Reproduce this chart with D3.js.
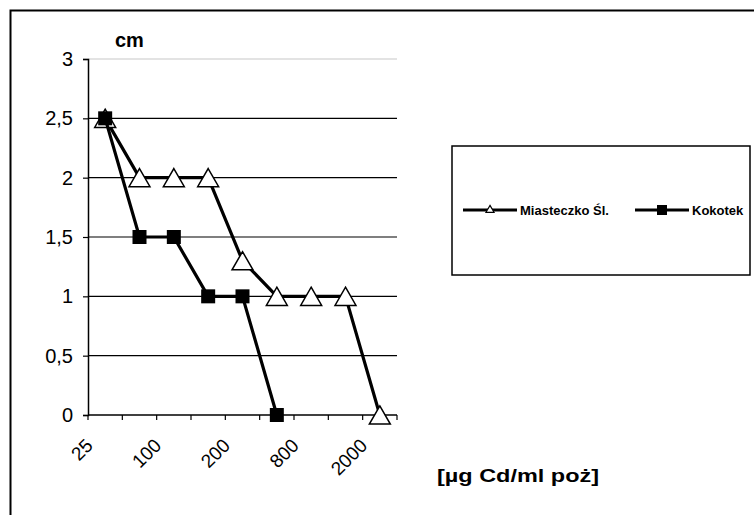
<!DOCTYPE html>
<html lang="pl">
<head>
<meta charset="UTF-8">
<title>Cd chart</title>
<style>
    body, html { margin: 0; padding: 0; background: #fff; }
    svg { display: block; font-family: "Liberation Sans", Arial, sans-serif; }
</style>
</head>
<body>
<div id="chart"></div>
<script src="https://cdn.jsdelivr.net/npm/d3@7"></script>
<script>
    // categories on the x axis (only every other one is labelled)
    const categories = ["c1", "c2", "c3", "c4", "c5", "c6", "c7", "c8", "c9"];
    const tickLabels = ["25", "", "100", "", "200", "", "800", "", "2000"];
    const yTicks = [0, 0.5, 1, 1.5, 2, 2.5, 3];

    const miasteczko = [2.5, 2, 2, 2, 1.3, 1, 1, 1, 0];
    const kokotek = [2.5, 1.5, 1.5, 1, 1, 0];

    const width = 754, height = 515;

    const svg = d3.select("#chart").append("svg")
        .attr("width", width)
        .attr("height", height);

    // outer frame (runs off the right/bottom edge like the original)
    svg.append("rect")
        .attr("x", 10.5).attr("y", 10.5)
        .attr("width", 760).attr("height", 520)
        .attr("fill", "none")
        .attr("stroke", "#000")
        .attr("stroke-width", 2);

    const x = d3.scaleBand().domain(categories).range([88, 397]).padding(0);
    const y = d3.scaleLinear().domain([0, 3]).range([415, 59]);
    const cx = c => x(c) + x.bandwidth() / 2;

    // gridlines
    svg.append("g")
        .selectAll("line")
        .data(yTicks.filter(t => t > 0))
        .join("line")
        .attr("x1", x.range()[0]).attr("x2", x.range()[1])
        .attr("y1", d => y(d)).attr("y2", d => y(d))
        .attr("stroke", d => d === 3 ? "#c8c8c8" : "#000")
        .attr("stroke-width", 1.2);

    // y axis
    const yAxis = svg.append("g")
        .attr("transform", `translate(${x.range()[0]},0)`)
        .call(d3.axisLeft(y).tickValues(yTicks).tickSize(5).tickPadding(10)
            .tickFormat(d => String(d).replace(".", ",")));
    yAxis.select(".domain").attr("stroke", "#000").attr("stroke-width", 1.5);
    yAxis.selectAll(".tick line").attr("stroke", "#000").attr("stroke-width", 1.2);
    yAxis.selectAll("text")
        .attr("font-size", 20)
        .attr("font-family", "'Liberation Sans', Arial, sans-serif")
        .attr("fill", "#000");

    // x axis line
    svg.append("line")
        .attr("x1", x.range()[0]).attr("x2", x.range()[1])
        .attr("y1", y(0)).attr("y2", y(0))
        .attr("stroke", "#000").attr("stroke-width", 1.5);

    // x tick marks at category boundaries
    const bounds = categories.map(c => x(c)).concat([x.range()[1]]);
    svg.append("g")
        .selectAll("line")
        .data(bounds)
        .join("line")
        .attr("x1", d => d).attr("x2", d => d)
        .attr("y1", y(0)).attr("y2", y(0) + 5)
        .attr("stroke", "#000").attr("stroke-width", 1.2);

    // x tick labels, rotated
    svg.append("g")
        .selectAll("text")
        .data(categories.map((c, i) => ({ c, label: tickLabels[i] })).filter(d => d.label))
        .join("text")
        .attr("transform", d => `translate(${cx(d.c) - 16},${y(0) + 27}) rotate(-45)`)
        .attr("text-anchor", "end")
        .attr("dy", "0.35em")
        .attr("font-size", 19)
        .text(d => d.label);

    // unit labels
    svg.append("text")
        .attr("x", 115).attr("y", 47)
        .attr("font-size", 20).attr("font-weight", "bold")
        .text("cm");

    svg.append("text")
        .attr("x", 437).attr("y", 482)
        .attr("font-size", 19).attr("font-weight", "bold")
        .attr("textLength", 162)
        .attr("lengthAdjust", "spacingAndGlyphs")
        .text("[µg Cd/ml poż]");

    const line = d3.line()
        .x((d, i) => cx(categories[i]))
        .y(d => y(d));

    const tri = d3.symbol().type(d3.symbolTriangle).size(190);

    // Miasteczko Śl.
    svg.append("path")
        .datum(miasteczko)
        .attr("d", line)
        .attr("fill", "none")
        .attr("stroke", "#000")
        .attr("stroke-width", 3.2)
        .attr("stroke-linejoin", "round");

    svg.append("g")
        .selectAll("path")
        .data(miasteczko)
        .join("path")
        .attr("d", tri)
        .attr("transform", (d, i) => `translate(${cx(categories[i])},${y(d) + 3})`)
        .attr("fill", "#fff")
        .attr("stroke", "#000")
        .attr("stroke-width", 1.5);

    // Kokotek
    svg.append("path")
        .datum(kokotek)
        .attr("d", line)
        .attr("fill", "none")
        .attr("stroke", "#000")
        .attr("stroke-width", 3.2)
        .attr("stroke-linejoin", "round");

    svg.append("g")
        .selectAll("rect")
        .data(kokotek)
        .join("rect")
        .attr("x", (d, i) => cx(categories[i]) - 7)
        .attr("y", d => y(d) - 7)
        .attr("width", 14).attr("height", 14)
        .attr("fill", "#000");

    // legend
    const legend = svg.append("g");
    legend.append("rect")
        .attr("x", 452).attr("y", 146)
        .attr("width", 298).attr("height", 129)
        .attr("fill", "#fff")
        .attr("stroke", "#000")
        .attr("stroke-width", 1.5);

    const ly = 210;
    const items = [
        { name: "Miasteczko Śl.", x0: 463, marker: "tri" },
        { name: "Kokotek", x0: 635, marker: "sq" }
    ];
    items.forEach(it => {
        legend.append("line")
            .attr("x1", it.x0).attr("x2", it.x0 + 54)
            .attr("y1", ly).attr("y2", ly)
            .attr("stroke", "#000").attr("stroke-width", 3);
        if (it.marker === "tri") {
            legend.append("path")
                .attr("d", d3.symbol().type(d3.symbolTriangle).size(28))
                .attr("transform", `translate(${it.x0 + 27},${ly})`)
                .attr("fill", "#fff").attr("stroke", "#000").attr("stroke-width", 1.2);
        } else {
            legend.append("rect")
                .attr("x", it.x0 + 22).attr("y", ly - 5)
                .attr("width", 10).attr("height", 10)
                .attr("fill", "#000");
        }
        legend.append("text")
            .attr("x", it.x0 + 57).attr("y", ly + 5)
            .attr("font-size", 13).attr("font-weight", "bold")
            .text(it.name);
    });
</script>
</body>
</html>
